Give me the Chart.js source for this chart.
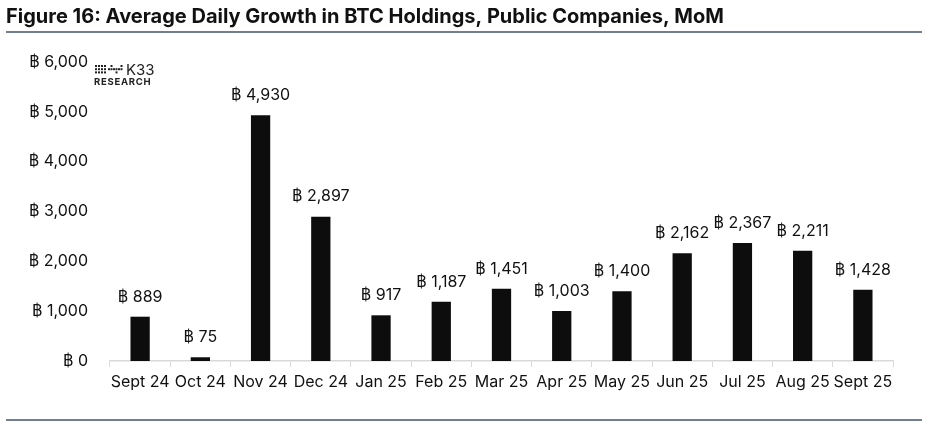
<!DOCTYPE html>
<html>
<head>
<meta charset="utf-8">
<script src="https://cdn.jsdelivr.net/npm/chart.js@4"></script>
<style>
  html, body { margin: 0; padding: 0; background: #fff; }
  #wrap { width: 928px; height: 429px; position: relative; }
</style>
</head>
<body>
<div id="wrap"><canvas id="growthChart"></canvas></div>
<script>
// chart data
const months = ["Sept 24", "Oct 24", "Nov 24", "Dec 24", "Jan 25", "Feb 25", "Mar 25",
                "Apr 25", "May 25", "Jun 25", "Jul 25", "Aug 25", "Sept 25"];
const dailyGrowth = [889, 75, 4930, 2897, 917, 1187, 1451, 1003, 1400, 2162, 2367, 2211, 1428];
const yTicks = [0, 1000, 2000, 3000, 4000, 5000, 6000];

const titleText = "Figure 16: Average Daily Growth in BTC Holdings, Public Companies, MoM";
const fontFamily = "Inter, 'Open Sans', sans-serif";

const btc = v => "\u0E3F " + v.toLocaleString("en-US");

// title, rules and logo
const decorPlugin = {
    id: "decor",
    afterDraw(chart) {
        const c = chart.ctx;
        c.save();
        c.fillStyle = "#111";
        c.font = "bold 20px " + fontFamily;
        c.textBaseline = "middle";
        c.textAlign = "left";
        c.fillText(titleText, 6, 17);

        c.strokeStyle = "#44546a";
        c.lineWidth = 1.5;
        c.beginPath();
        c.moveTo(6, 32); c.lineTo(922, 32);
        c.moveTo(6, 420); c.lineTo(922, 420);
        c.stroke();

        // K33 logo
        c.fillStyle = "#222";
        for (let i = 0; i < 4; i++) {
            for (let j = 0; j < 3; j++) {
                c.fillRect(95 + i * 3, 65 + j * 3.2, 2, 2);
            }
        }
        for (let i = 0; i < 3; i++) {
            c.fillRect(108 + i * 5, 68.2, 2, 2);
            c.fillRect(110.5 + i * 5, 65 + (i % 2) * 6.4, 2, 2);
            c.fillRect(110.5 + i * 5, 68.2, 2, 2);
        }
        c.font = "15px " + fontFamily;
        c.textBaseline = "middle";
        c.fillText("K33", 126, 70);
        c.font = "bold 9.5px " + fontFamily;
        c.fillText("R E S E A R C H".replace(/ /g, "\u200A"), 94, 82);
        c.restore();
    }
};

// value labels above bars
const valueLabelPlugin = {
    id: "valueLabels",
    afterDatasetsDraw(chart) {
        const c = chart.ctx;
        const meta = chart.getDatasetMeta(0);
        c.save();
        c.fillStyle = "#111";
        c.font = "16px " + fontFamily;
        c.textAlign = "center";
        c.textBaseline = "bottom";
        meta.data.forEach((bar, i) => {
            c.fillText(btc(dailyGrowth[i]), bar.x, bar.y - 12);
        });
        c.restore();
    }
};

new Chart(document.getElementById("growthChart"), {
    type: "bar",
    data: {
        labels: months,
        datasets: [{
            data: dailyGrowth,
            backgroundColor: "#0d0d0d",
            barPercentage: 0.32,
            categoryPercentage: 1.0
        }]
    },
    options: {
        responsive: true,
        maintainAspectRatio: false,
        animation: false,
        layout: {
            padding: { left: 0, right: 35, top: 62, bottom: 28 }
        },
        plugins: {
            legend: { display: false },
            tooltip: { enabled: false }
        },
        scales: {
            x: {
                grid: {
                    display: true,
                    drawOnChartArea: false,
                    drawTicks: true,
                    tickLength: 6,
                    color: "#d9d9d9"
                },
                border: { color: "#d9d9d9", width: 1.5 },
                ticks: {
                    color: "#111",
                    font: { family: fontFamily, size: 16 },
                    maxRotation: 0,
                    autoSkip: false,
                    padding: 6
                },
                afterFit(scale) { scale.height = 40; }
            },
            y: {
                min: 0,
                max: 6000,
                afterBuildTicks(scale) {
                    scale.ticks = yTicks.map(v => ({ value: v }));
                },
                grid: { display: false },
                border: { display: false },
                ticks: {
                    color: "#111",
                    font: { family: fontFamily, size: 16 },
                    padding: 14,
                    callback: v => btc(v)
                },
                afterFit(scale) { scale.width = 110; }
            }
        }
    },
    plugins: [decorPlugin, valueLabelPlugin]
});
</script>
</body>
</html>
